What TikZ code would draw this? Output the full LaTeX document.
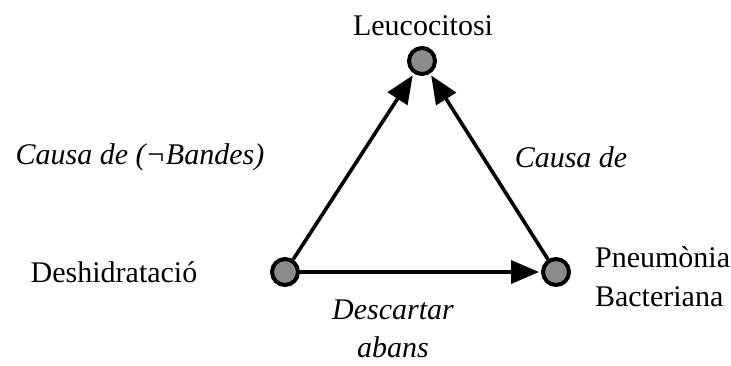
\documentclass[tikz,border=0pt]{standalone}
\usepackage{fontspec}
\setmainfont{Liberation Serif}
\usetikzlibrary{positioning,arrows.meta}

\tikzset{
  fet/.style={circle,draw=black,line width=2pt,fill=black!45,minimum size=13pt,inner sep=0pt},
  rel/.style={line width=1.8pt,-{Triangle[length=14pt,width=11.5pt]},shorten >=1pt},
  nom/.style={font=\fontsize{15}{19.5}\selectfont,align=left},
  etiq/.style={font=\fontsize{15}{19}\selectfont\itshape,align=center}
}

\begin{document}
\begin{tikzpicture}[x=0.5pt,y=-0.5pt]
\useasboundingbox (0,0) rectangle (731,365);
% nodes
\node[fet] (leuco) at (422,61) {};
\node[fet] (deshi) at (285,272) {};
\node[fet] (pneumo) at (556,272) {};
% texts
\node[nom] (tleuco) at (423,26) {Leucocitosi};
\node[nom] (tdeshi) at (114,272) {Deshidratació};
\node[nom,anchor=west] (tpneumo) at (588,277) {Pneumònia\\Bacteriana};
\node[etiq] (causa1) at (140,157) {Causa de (¬Bandes)};
\node[etiq] (causa2) at (571,157) {Causa de};
\node[etiq] (descartar) at (393,329) {Descartar\\abans};
% relations
\draw[rel] (deshi) -- (leuco);
\draw[rel] (pneumo) -- (leuco);
\draw[rel] (deshi) -- (pneumo);
\end{tikzpicture}
\end{document}
